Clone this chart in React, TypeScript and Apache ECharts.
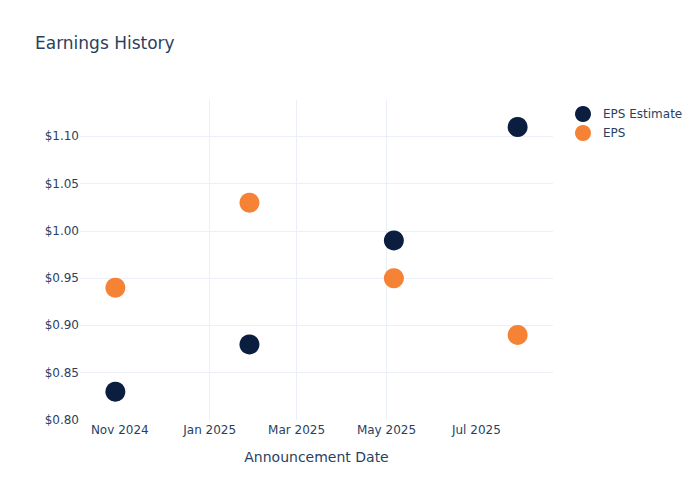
import React, { useEffect, useRef } from "react";
import * as echarts from "echarts";

const dates = ["2024-10-29", "2025-01-28", "2025-05-06", "2025-07-29"];
const epsEstimate = [0.83, 0.88, 0.99, 1.11];
const epsActual = [0.94, 1.03, 0.95, 0.89];
const xTickDates = ["2024-11-01", "2025-01-01", "2025-03-01", "2025-05-01", "2025-07-01"];
const xTickLabels = ["Nov 2024", "Jan 2025", "Mar 2025", "May 2025", "Jul 2025"];

const TEXT = "#2a3f5f";
const GRID = "#ebf0f8";
const FONT = "DejaVu Sans";

const ts = (d: string) => Date.UTC(+d.slice(0, 4), +d.slice(5, 7) - 1, +d.slice(8, 10));

export default function App() {
  const ref = useRef<HTMLDivElement>(null);
  useEffect(() => {
    document.body.style.margin = "0";
    const chart = echarts.init(ref.current!, null, { renderer: "svg" });
    const tickVals = xTickDates.map(ts);
    const labelFor = (v: number) => {
      const i = tickVals.findIndex((t) => Math.abs(t - v) < 1000);
      return i >= 0 ? xTickLabels[i] : "";
    };
    chart.setOption({
      animation: false,
      backgroundColor: "#ffffff",
      textStyle: { fontFamily: FONT },
      title: {
        text: "Earnings History",
        left: 35,
        top: 34,
        padding: 0,
        textStyle: { fontFamily: FONT, fontSize: 17, fontWeight: "normal", color: TEXT },
      },
      legend: {
        orient: "vertical",
        left: 575,
        top: 106,
        padding: 0,
        itemWidth: 16,
        itemHeight: 16,
        itemGap: 3,
        icon: "circle",
        textStyle: { fontFamily: FONT, fontSize: 12, color: TEXT, padding: [0, 0, 0, 7] },
        data: ["EPS Estimate", "EPS"],
      },
      grid: { left: 80, right: 147, top: 100, bottom: 80, containLabel: false },
      xAxis: {
        type: "value",
        min: ts("2024-10-05"),
        max: ts("2025-08-22"),
        name: "Announcement Date",
        nameLocation: "middle",
        nameGap: 30,
        nameTextStyle: { fontFamily: FONT, fontSize: 14, color: TEXT },
        axisLine: { show: false },
        axisTick: { show: false, customValues: tickVals },
        splitLine: { show: true, showMinLine: false, showMaxLine: false, lineStyle: { color: GRID, width: 1 } },
        axisLabel: {
          customValues: tickVals,
          formatter: (v: number) => labelFor(v),
          fontFamily: FONT,
          fontSize: 12,
          color: TEXT,
          margin: 4,
          hideOverlap: false,
        },
      },
      yAxis: {
        type: "value",
        min: 0.8,
        max: 1.1386,
        interval: 0.05,
        axisLine: { show: false },
        axisTick: { show: false },
        splitLine: { show: true, showMinLine: false, showMaxLine: false, lineStyle: { color: GRID, width: 1 } },
        axisLabel: {
          showMaxLabel: false,
          formatter: (v: number) => "$" + v.toFixed(2),
          fontFamily: FONT,
          fontSize: 12,
          color: TEXT,
          margin: 1,
        },
      },
      series: [
        {
          name: "EPS Estimate",
          type: "scatter",
          symbol: "circle",
          symbolSize: 20,
          itemStyle: { color: "#0b1e3f", opacity: 1 },
          data: dates.map((d, i) => [ts(d), epsEstimate[i]]),
        },
        {
          name: "EPS",
          type: "scatter",
          symbol: "circle",
          symbolSize: 20,
          itemStyle: { color: "#f58235", opacity: 1 },
          data: dates.map((d, i) => [ts(d), epsActual[i]]),
        },
      ],
    });
    return () => chart.dispose();
  }, []);
  return <div ref={ref} style={{ width: 700, height: 500 }} />;
}
